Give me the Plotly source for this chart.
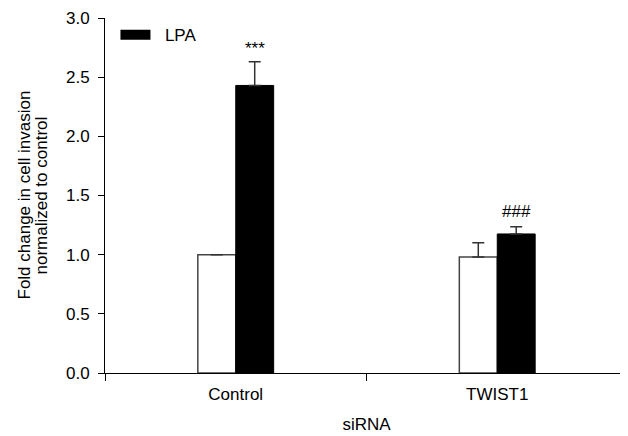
import plotly.graph_objects as go

categories = ["Control", "TWIST1"]
vehicle_values = [1.0, 0.98]
vehicle_errors = [0.0, 0.12]
lpa_values = [2.43, 1.175]
lpa_errors = [0.20, 0.06]
significance = ["***", "###"]
y_ticks = [0.0, 0.5, 1.0, 1.5, 2.0, 2.5, 3.0]
y_title_lines = ["Fold change in cell invasion", "normalized to control"]

FONT = "Liberation Sans, Arial, sans-serif"
FS = 17

fig = go.Figure()
fig.add_trace(go.Bar(
    x=categories, y=vehicle_values, name="Vehicle", showlegend=False,
    marker=dict(color="white", line=dict(color="#444444", width=1.5)),
    error_y=dict(type="data", array=vehicle_errors, arrayminus=[0, 0],
                 symmetric=False, color="#333333", thickness=1.5, width=6),
))
fig.add_trace(go.Bar(
    x=categories, y=lpa_values, name="LPA", showlegend=False,
    marker=dict(color="black", line=dict(color="black", width=1)),
    error_y=dict(type="data", array=lpa_errors, arrayminus=[0, 0],
                 symmetric=False, color="#333333", thickness=1.5, width=6),
))
# legend swatch (wide rectangle like the original)
fig.add_trace(go.Scatter(
    x=[None], y=[None], mode="lines", name="\u00a0\u00a0LPA",
    line=dict(color="black", width=15), showlegend=True,
))

for cat, v, e, s in zip(categories, lpa_values, lpa_errors, significance):
    fig.add_annotation(
        x=cat, y=v + e, xref="x", yref="y", text=s, showarrow=False,
        xshift=19, yanchor="bottom", yshift=2 if s == "***" else 4,
        font=dict(size=FS, color="black", family=FONT),
    )

# y-axis title as two tightly spaced rotated lines
for line, shift in zip(y_title_lines, [-81, -64]):
    fig.add_annotation(
        x=0, y=0.5, xref="paper", yref="paper", text=line, showarrow=False,
        textangle=-90, xanchor="center", yanchor="middle", xshift=shift,
        font=dict(size=17, color="black", family=FONT),
    )

fig.update_layout(
    width=628, height=436,
    margin=dict(l=97, r=8, t=10, b=71),
    paper_bgcolor="white", plot_bgcolor="white",
    font=dict(family=FONT, size=FS, color="black"),
    barmode="group", bargap=0.71, bargroupgap=0,
    legend=dict(x=0.02, y=1.002, xanchor="left", yanchor="top",
                bgcolor="rgba(0,0,0,0)", font=dict(size=FS)),
)
fig.update_xaxes(
    type="category", showline=True, linecolor="black", linewidth=1,
    ticks="outside", tickson="boundaries", ticklen=7, tickcolor="black",
    showgrid=False, automargin=False, ticklabelstandoff=6,
    title=dict(text="siRNA", font=dict(size=FS), standoff=14),
)
fig.update_yaxes(
    range=[0, 3], tickvals=y_ticks, tickformat=".1f",
    showline=True, linecolor="black", linewidth=1,
    ticks="outside", ticklen=6, tickcolor="black", showgrid=False, zeroline=False,
    automargin=False, ticklabelstandoff=5,
)

fig.write_html("out.html")
